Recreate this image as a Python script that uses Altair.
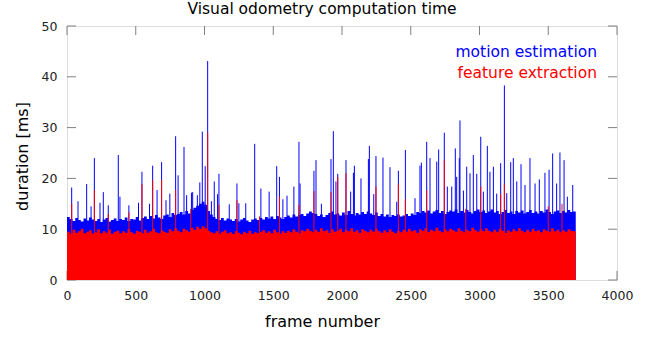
import altair as alt
import pandas as pd

FONT = "DejaVu Sans"
BIN = 20  # frames per base bin

# --- typical (dense band) height per 20-frame bin (ms)
blue_base = [
    12.4, 12.0, 11.6, 12.2, 11.8, 11.5, 12.1, 11.7, 12.3, 11.9,
    11.6, 12.0, 11.4, 11.9, 12.2, 11.5, 11.8, 12.1, 11.6, 12.0,
    11.8, 12.3, 11.6, 12.0, 11.9, 12.4, 11.7, 12.2, 12.5, 12.0,
    12.6, 12.1, 12.8, 12.3, 12.0, 12.7, 12.9, 12.4, 13.2, 12.8,
    13.0, 13.4, 12.9, 13.6, 13.1, 13.8, 14.2, 14.6, 15.0, 15.4,
    14.8, 13.6, 12.9, 12.4, 12.0, 11.8, 12.2, 11.7, 12.1, 11.9,
    11.6, 12.0, 11.5, 11.9, 12.2, 11.7, 11.4, 11.9, 12.1, 11.8,
    12.2, 11.9, 12.4, 12.1, 12.5, 12.0, 12.6, 12.3, 12.0, 12.4,
    12.7, 12.3, 12.9, 12.5, 12.8, 13.0, 12.6, 13.1, 13.5, 13.2,
    13.0, 12.6, 12.9, 12.4, 12.8, 13.2, 13.5, 12.9, 13.1, 12.7,
    13.3, 12.8, 13.6, 13.0, 12.7, 13.2, 12.9, 13.4, 13.0, 13.5,
    13.1, 12.8, 13.3, 12.6, 13.0, 12.5, 12.9, 12.4, 12.8, 12.6,
    12.9, 12.5, 12.7, 13.0, 12.6, 13.1, 12.8, 13.4, 13.2, 13.6,
    13.3, 13.7, 13.1, 13.5, 13.8, 13.2, 13.6, 13.0, 13.4, 13.7,
    13.5, 13.9, 13.2, 13.6, 13.3, 13.8, 13.4, 13.1, 13.6, 13.9,
    13.4, 13.7, 13.2, 13.5, 13.9, 13.3, 13.6, 13.0, 13.4, 13.8,
    13.2, 13.5, 13.0, 13.6, 13.3, 13.7, 13.1, 13.4, 13.8, 13.2,
    13.5, 13.1, 13.6, 13.3, 13.9, 13.4, 13.0, 13.5, 13.7, 13.2,
    13.6, 13.3, 13.8, 13.4, 13.5,
]
red_base = [
    9.5, 9.1, 9.9, 9.3, 9.6, 10.1, 9.2, 9.5, 9.8, 9.1,
    9.4, 10.0, 9.2, 9.6, 9.3, 9.9, 9.1, 9.5, 9.7, 9.2,
    9.6, 9.3, 10.0, 9.4, 9.1, 9.7, 9.5, 9.2, 9.9, 9.3,
    9.6, 10.1, 9.4, 9.2, 9.8, 9.5, 9.3, 10.0, 9.6, 10.2,
    9.7, 9.4, 10.1, 9.8, 9.5, 10.3, 9.9, 10.5, 10.1, 10.6,
    10.2, 9.7, 9.4, 9.2, 9.6, 9.1, 9.5, 9.8, 9.2, 9.4,
    9.1, 9.6, 9.3, 9.0, 9.5, 9.2, 9.7, 9.1, 9.4, 9.2,
    9.5, 9.8, 9.3, 9.6, 9.2, 9.9, 9.4, 9.1, 9.6, 9.3,
    9.7, 9.4, 10.0, 9.5, 9.2, 9.8, 9.6, 10.1, 9.7, 9.4,
    9.9, 9.5, 10.2, 9.6, 9.8, 9.3, 10.0, 9.5, 9.7, 10.1,
    9.4, 9.9, 9.6, 10.2, 9.5, 9.8, 9.3, 10.0, 9.7, 9.4,
    9.9, 9.5, 10.1, 9.6, 9.3, 9.8, 9.4, 10.0, 9.5, 9.2,
    9.7, 9.4, 9.9, 9.5, 10.1, 9.6, 9.8, 9.3, 10.0, 9.7,
    10.2, 9.5, 9.9, 9.6, 10.3, 9.7, 9.4, 10.0, 9.6, 10.1,
    9.8, 9.5, 10.2, 9.7, 9.4, 9.9, 9.6, 10.3, 9.8, 9.5,
    10.0, 9.6, 10.2, 9.7, 9.4, 9.9, 9.5, 10.1, 9.7, 9.3,
    9.8, 9.5, 10.0, 9.6, 10.2, 9.7, 9.4, 9.9, 9.5, 10.1,
    9.6, 9.8, 9.4, 10.0, 9.7, 9.5, 10.2, 9.6, 9.9, 9.4,
    9.8, 9.5, 10.0, 9.7, 9.6,
]

# --- individual impulses standing out above the band (frame, ms)
blue_spike_frames = [
    34, 80, 143, 175, 199, 240, 264, 300, 373, 385, 450, 520, 545, 600, 623,
    655, 688, 720, 748, 790, 808, 851, 870, 905, 914, 948, 966, 984, 1005,
    1023, 1050, 1071, 1095, 1105, 1180, 1236, 1250, 1300, 1365, 1410, 1470,
    1525, 1545, 1570, 1600, 1650, 1687, 1695, 1796, 1811, 1850, 1920, 1937,
    1956, 1969, 2029, 2063, 2083, 2090, 2138, 2192, 2199, 2231, 2247, 2298,
    2349, 2398, 2410, 2461, 2531, 2567, 2577, 2616, 2640, 2689, 2703, 2744,
    2766, 2798, 2824, 2834, 2853, 2858, 2883, 2907, 2931, 2955, 2980, 3009,
    3028, 3057, 3076, 3101, 3125, 3154, 3181, 3198, 3227, 3246, 3271, 3302,
    3331, 3367, 3404, 3435, 3476, 3506, 3532, 3561, 3585, 3615, 3639, 3678,
]
blue_spike_values = [
    18.2, 15.5, 18.9, 14.5, 24.0, 15.2, 17.3, 14.7, 24.6, 16.4, 14.7, 15.2, 21.3, 15.0, 22.5,
    17.7, 23.2, 15.7, 17.0, 28.3, 20.6, 26.2, 16.7, 17.2, 17.3, 16.7, 19.2, 29.2, 22.4,
    43.1, 15.5, 19.4, 16.9, 20.9, 14.9, 19.0, 15.1, 15.1, 26.8, 18.0, 17.4,
    22.4, 20.3, 15.9, 16.6, 18.4, 27.2, 19.0, 21.5, 23.6, 15.0, 23.8, 29.3,
    19.4, 20.9, 23.6, 17.4, 21.1, 22.5, 20.0, 23.8, 26.4, 16.9, 24.4, 24.1,
    22.2, 15.4, 21.5, 25.6, 16.1, 22.5, 23.1, 27.2, 24.0, 23.3, 25.7, 29.0,
    18.4, 18.4, 25.9, 20.3, 24.0, 31.4, 17.6, 22.3, 21.0, 24.6, 20.9, 28.2,
    17.4, 26.4, 21.3, 22.3, 17.0, 23.0, 38.3, 17.1, 23.2, 24.0, 19.4, 22.8,
    18.7, 24.0, 19.0, 19.8, 21.1, 21.7, 24.9, 19.0, 25.1, 23.6, 16.4, 18.7,
]
red_spike_frames = [
    34, 199, 300, 450, 545, 623, 688, 790, 900, 1023, 1105, 1236, 1400, 1545,
    1687, 1796, 1920, 1969, 2029, 2247, 2410, 2461, 2616, 2744, 2900, 3009,
    3154, 3181, 3500, 3600,
]
red_spike_values = [
    15.0, 17.7, 13.0, 13.3, 18.9, 19.7, 19.7, 17.7, 14.0, 29.0, 14.8, 15.7, 12.5, 16.4,
    14.8, 17.5, 17.3, 20.3, 21.0, 18.4, 18.9, 15.9, 17.7, 23.6, 14.0, 18.4,
    17.0, 18.9, 14.5, 15.0,
]

x_ticks = [0, 500, 1000, 1500, 2000, 2500, 3000, 3500, 4000]
y_ticks = [0, 10, 20, 30, 40, 50]
legend_names = ["motion estimation", "feature extraction"]
legend_colors = ["#0000ff", "#ff0000"]
title_text = "Visual odometry computation time"


def base_frame(values):
    frames = [i * BIN for i in range(len(values))] + [len(values) * BIN]
    vals = list(values) + [values[-1]]
    return pd.DataFrame({"frame": frames, "ms": vals})


blue_base_df = base_frame(blue_base)
red_base_df = base_frame(red_base)
blue_spk = pd.DataFrame({"frame": blue_spike_frames, "ms": blue_spike_values})
red_spk = pd.DataFrame({"frame": red_spike_frames, "ms": red_spike_values})

xscale = alt.Scale(domain=[0, 4000], nice=False, zero=False)
yscale = alt.Scale(domain=[0, 50], nice=False)

xaxis = alt.Axis(values=x_ticks, title="frame number", grid=False, ticks=False,
                 domain=False, labelPadding=9, titlePadding=12, format="d",
                 titleX=255, titleAlign="center",
                 labelFont=FONT, labelFontSize=12.5, labelColor="#222222",
                 titleFont=FONT, titleFontSize=16, titleFontWeight="normal",
                 titleColor="#000000", labelFlush=False)
yaxis = alt.Axis(values=y_ticks, title="duration [ms]", grid=False, ticks=False,
                 domain=False, labelPadding=10, titlePadding=11, format="d",
                 titleY=130, titleAlign="center",
                 labelFont=FONT, labelFontSize=12.5, labelColor="#222222",
                 titleFont=FONT, titleFontSize=16, titleFontWeight="normal",
                 titleColor="#000000", labelFlush=False)

# inside tick marks (gnuplot style, mirrored on all four sides)
xt = pd.DataFrame({"t": x_ticks})
yt = pd.DataFrame({"t": y_ticks})
tick_col = "#808080"
xt_bottom = alt.Chart(xt).mark_rule(color=tick_col, strokeWidth=1).encode(
    x=alt.X("t:Q", scale=xscale, axis=xaxis), y=alt.value(254), y2=alt.value(245))
xt_top = alt.Chart(xt).mark_rule(color=tick_col, strokeWidth=1).encode(
    x=alt.X("t:Q", scale=xscale), y=alt.value(0), y2=alt.value(9))
yt_left = alt.Chart(yt).mark_rule(color=tick_col, strokeWidth=1).encode(
    y=alt.Y("t:Q", scale=yscale, axis=yaxis), x=alt.value(0), x2=alt.value(9))
yt_right = alt.Chart(yt).mark_rule(color=tick_col, strokeWidth=1).encode(
    y=alt.Y("t:Q", scale=yscale), x=alt.value(550), x2=alt.value(541))

blue_area = alt.Chart(blue_base_df).mark_area(
    color="#0000ff", interpolate="step-after").encode(
    x=alt.X("frame:Q", scale=xscale), y=alt.Y("ms:Q", scale=yscale))
blue_rules = alt.Chart(blue_spk).mark_rule(color="#0000ff", strokeWidth=1).encode(
    x=alt.X("frame:Q", scale=xscale), y=alt.Y("ms:Q", scale=yscale), y2=alt.datum(0))
red_area = alt.Chart(red_base_df).mark_area(
    color="#ff0000", interpolate="step-after").encode(
    x=alt.X("frame:Q", scale=xscale), y=alt.Y("ms:Q", scale=yscale))
red_rules = alt.Chart(red_spk).mark_rule(color="#ff0000", strokeWidth=1).encode(
    x=alt.X("frame:Q", scale=xscale), y=alt.Y("ms:Q", scale=yscale), y2=alt.datum(0))

leg1 = alt.Chart(pd.DataFrame({"name": [legend_names[0]]})).mark_text(
    align="right", baseline="alphabetic", font=FONT, fontSize=15.5,
    color=legend_colors[0]).encode(text="name:N", x=alt.value(530), y=alt.value(31))
leg2 = alt.Chart(pd.DataFrame({"name": [legend_names[1]]})).mark_text(
    align="right", baseline="alphabetic", font=FONT, fontSize=15.5,
    color=legend_colors[1]).encode(text="name:N", x=alt.value(530), y=alt.value(52))
title_mark = alt.Chart(pd.DataFrame({"name": [title_text]})).mark_text(
    align="center", baseline="alphabetic", font=FONT, fontSize=15.5,
    color="#000000").encode(text="name:N", x=alt.value(255), y=alt.value(-12))

chart = alt.layer(
    xt_bottom, xt_top, yt_left, yt_right,
    blue_area, blue_rules, red_area, red_rules, leg1, leg2, title_mark,
).properties(
    width=550, height=254,
    padding={"left": 67, "top": 26, "right": 37, "bottom": 57},
    autosize=alt.AutoSizeParams(type="none"),
).configure_view(stroke="#808080", strokeWidth=1, clip=False).configure(background="white")

chart.save("out.html", embed_options={"renderer": "svg", "actions": False})
